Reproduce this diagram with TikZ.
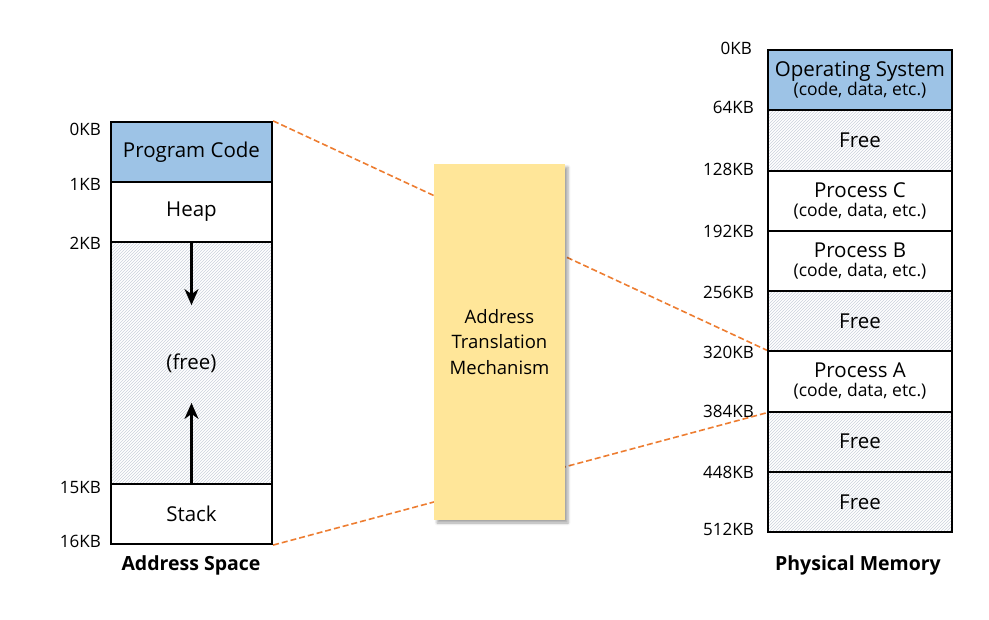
\documentclass[tikz,border=0pt]{standalone}
\usepackage{fontspec}
\setmainfont{Open Sans}
\usetikzlibrary{arrows.meta,patterns,shadows.blur}
\definecolor{blueseg}{HTML}{9DC3E6}
\definecolor{yellowbox}{HTML}{FFE699}
\definecolor{dashorange}{HTML}{ED7D31}
\definecolor{freebg}{HTML}{E8ECF1}
\definecolor{freeline}{HTML}{CAD1DC}
\begin{document}
\begin{tikzpicture}[x=1pt,y=-1pt,
  seg/.style={draw=black,line width=2.2pt,inner sep=0pt,align=center,font=\fontsize{20.5}{23}\selectfont},
  lseg/.style={seg,minimum width=161pt},
  rseg/.style={seg,minimum width=184pt,minimum height=60.25pt},
  freeseg/.style={fill=freebg,pattern=north east lines,pattern color=freeline},
  kb/.style={anchor=east,inner sep=0pt,font=\fontsize{17}{19}\selectfont},
  captxt/.style={inner sep=0pt,font=\fontsize{19.5}{22}\selectfont\bfseries},
  maplink/.style={draw=dashorange,line width=1.6pt,dash pattern=on 6pt off 3pt},
  growarrow/.style={line width=2.2pt,-{Stealth[length=16pt,width=14pt,inset=5pt]}}
]
\newcommand{\smalltxt}{\fontsize{17.5}{20}\selectfont}
\useasboundingbox (0,0) rectangle (989,620);

% Address space
\node[lseg,minimum height=60pt,fill=blueseg] (pc) at (191.5,152) {Program Code};
\node[lseg,minimum height=60pt] (heap) at (191.5,212) {Heap};
\path[freeseg] (111,242) rectangle (272,484);
\node[lseg,minimum height=242pt] (free) at (191.5,363) {(free)};
\node[lseg,minimum height=60pt] (stack) at (191.5,514) {Stack};
\draw[growarrow] (heap.south) -- ++(0,62) coordinate (dtip);
\draw[growarrow] (stack.north) -- ++(0,-80) coordinate (utip);

\node[kb] (a0) at (101,129) {0KB};
\node[kb] (a1) at (101,184) {1KB};
\node[kb] (a2) at (101,243) {2KB};
\node[kb] (a15) at (101,488) {15KB};
\node[kb] (a16) at (101,541) {16KB};
\node[captxt] (ascap) at (191,565) {Address Space};

% Physical memory
\node[rseg,fill=blueseg] (os) at (860,80) {Operating System\\[-4pt]{\smalltxt(code, data, etc.)}};
\path[freeseg] (768,110) rectangle (952,170);
\node[rseg] (f1) at (860,140.5) {Free};
\node[rseg] (pcc) at (860,200.75) {Process C\\[-4pt]{\smalltxt(code, data, etc.)}};
\node[rseg] (pb) at (860,261) {Process B\\[-4pt]{\smalltxt(code, data, etc.)}};
\path[freeseg] (768,291) rectangle (952,351);
\node[rseg] (f2) at (860,321.25) {Free};
\node[rseg] (pa) at (860,381.5) {Process A\\[-4pt]{\smalltxt(code, data, etc.)}};
\path[freeseg] (768,411.75) rectangle (952,532);
\node[rseg] (f3) at (860,441.75) {Free};
\node[rseg] (f4) at (860,502) {Free};

\node[kb] (p0) at (752,48) {0KB};
\node[kb] (p64) at (754,107) {64KB};
\node[kb] (p128) at (754,169) {128KB};
\node[kb] (p192) at (754,231) {192KB};
\node[kb] (p256) at (754,292) {256KB};
\node[kb] (p320) at (754,352) {320KB};
\node[kb] (p384) at (754,411) {384KB};
\node[kb] (p448) at (754,472) {448KB};
\node[kb] (p512) at (754,529) {512KB};
\node[captxt] (pmcap) at (858,565) {Physical Memory};

% mapping lines
\draw[maplink] (pc.north east) -- (pa.north west);
\draw[maplink] (stack.south east) -- (pa.south west);

% translation box
\node[fill=yellowbox,minimum width=131pt,minimum height=356pt,inner sep=0pt,align=center,
  blur shadow={shadow xshift=3pt,shadow yshift=-3pt,shadow blur radius=2.5pt,shadow opacity=35},
  font=\fontsize{18.5}{25.5}\selectfont] (atm) at (499.5,342) {Address\\Translation\\Mechanism};
\end{tikzpicture}
\end{document}
